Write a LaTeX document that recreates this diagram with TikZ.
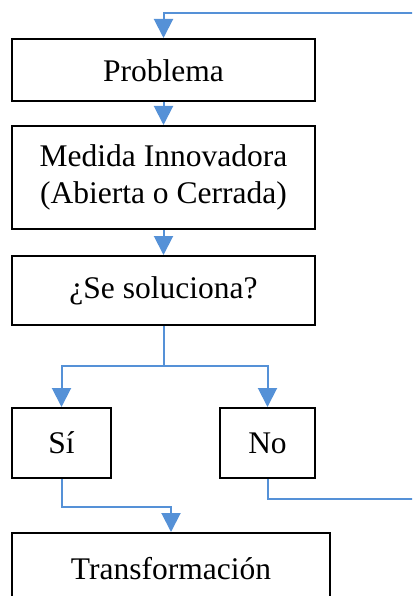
\documentclass[tikz,border=0pt]{standalone}
\usepackage{fontspec}
\setmainfont{Liberation Serif}
\usetikzlibrary{arrows.meta}
\definecolor{flowblue}{RGB}{85,145,215}

\begin{document}
\begin{tikzpicture}[x=1pt, y=-1pt,
  box/.style={draw=black, line width=2pt, inner sep=0pt, align=center,
    font=\fontsize{31.5}{37.5}\selectfont},
  flow/.style={draw=flowblue, line width=2pt},
  tipped/.style={-{Triangle[length=19pt, width=19pt]}}]
  % Layout frame
  \useasboundingbox (0,0) rectangle (412,596);
  \clip (0,0) rectangle (412,596);

  % -------- main column --------
  \node[box, minimum width=303pt, minimum height=62.5pt] (prob) at (163.5,70.25) {Problema};
  \node[box, minimum width=303pt, minimum height=103pt] (medida) at (163.5,177.5)
    {Medida Innovadora\\(Abierta o Cerrada)};
  \node[box, minimum width=303pt, minimum height=69pt] (sol) at (163.5,290.5) {¿Se soluciona?};

  % -------- answers --------
  \node[box, minimum width=99pt, minimum height=70pt] (si) at (61.5,443) {Sí};
  \node[box, minimum width=95pt, minimum height=70pt] (no) at (267.5,443) {No};
  \node[box, minimum width=318pt, minimum height=72pt] (trans) at (171,569) {Transformación};

  % -------- connectors --------
  \coordinate (loopin) at (414,13.3);
  \coordinate (loopout) at (414,499);
  \coordinate (fork) at (163.5,366);
  \draw[flow, tipped] (loopin) -| (prob.north);
  \draw[flow, tipped] (prob.south) -- (medida.north);
  \draw[flow, tipped] (medida.south) -- (sol.north);
  \draw[flow] (sol.south) -- (fork);
  \draw[flow, tipped] (fork) -| (si.north);
  \draw[flow, tipped] (fork) -| (no.north);
  \draw[flow, tipped] (si.south) -- ++(0,28) -| (trans.north);
  \draw[flow] (no.south) |- (loopout);
\end{tikzpicture}
\end{document}
